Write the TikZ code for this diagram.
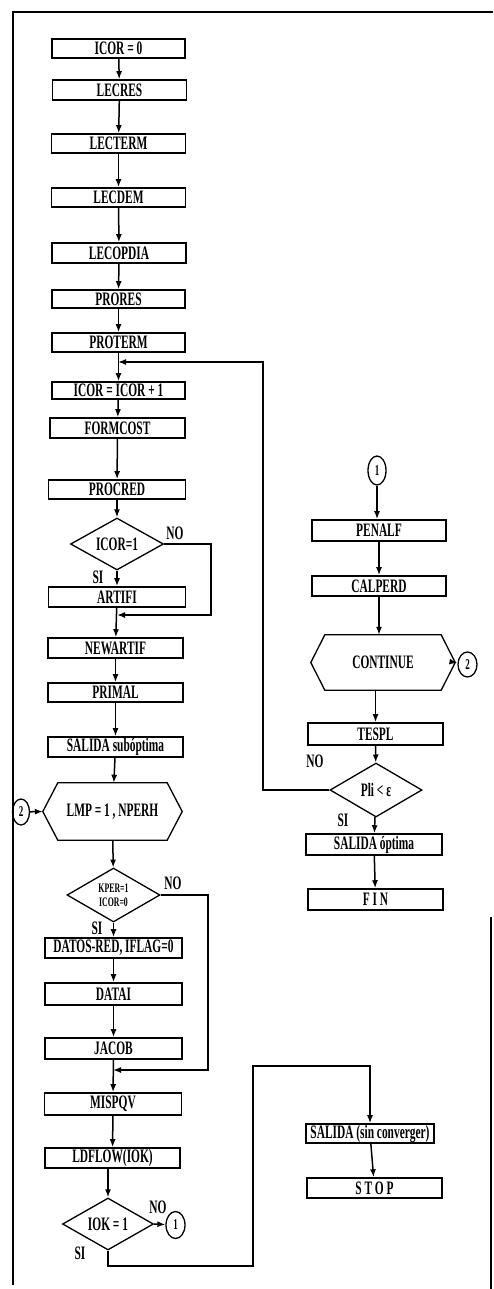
\documentclass[tikz,border=0pt]{standalone}
\usepackage{fontspec}
\newfontfamily\condfont[FakeStretch=0.6]{Liberation Serif}
\usetikzlibrary{arrows.meta,shapes.geometric}
\tikzset{
  tx/.style={font=\condfont\bfseries\fontsize{19}{21}\selectfont},
  box/.style={tx, draw, line width=1.6pt, minimum width=134pt, minimum height=20pt, inner sep=0pt},
  dia/.style={tx, draw, diamond, aspect=1.8, inner sep=0pt, line width=1.3pt, minimum width=93pt, minimum height=52pt},
  hexn/.style={tx, rectangle, inner sep=0pt},
  hexline/.style={line width=1.3pt},
  conn/.style={draw, ellipse, line width=1.3pt, inner sep=0pt, minimum width=17pt, minimum height=26pt, font=\condfont\bfseries\fontsize{15}{17}\selectfont},
  arr/.style={line width=1.5pt, -{Latex[length=8pt,width=6pt]}},
  ln/.style={line width=1.5pt},
  lbl/.style={tx, inner sep=0pt},
  frame/.style={line width=2.4pt}
}
\newcommand{\hexdraw}[2]{\draw[hexline] (#1.west) -- ([xshift=#2]#1.north west) -- ([xshift=-#2]#1.north east) -- (#1.east) -- ([xshift=-#2]#1.south east) -- ([xshift=#2]#1.south west) -- cycle;}
\begin{document}
\begin{tikzpicture}[x=1pt,y=-1pt]
\useasboundingbox (0,0) rectangle (493,1289);
% frame
\coordinate (fa) at (13,1285);
\coordinate (fb) at (13,12);
\coordinate (fc) at (493,12);
\coordinate (fd) at (491,917);
\coordinate (fe) at (491,1289);
\draw[frame] (fa) -- (fb) -- (fc);
\draw[frame] (fd) -- (fe);

% left column
\node[box, minimum width=133pt, minimum height=19pt] (ic0) at (118.5,48.5) {ICOR = 0};
\node[box] (lecres) at (119.5,90) {LECRES};
\node[box, minimum height=19pt] (lecterm) at (118.5,143.5) {LECTERM};
\node[box, minimum height=19pt] (lecdem) at (118.5,197.5) {LECDEM};
\node[box] (lecop) at (119,253) {LECOPDIA};
\node[box, minimum width=133pt, minimum height=18pt] (prores) at (118.5,299) {PRORES};
\node[box, minimum width=133pt, minimum height=19pt] (proterm) at (118.5,342.5) {PROTERM};
\coordinate (j1) at (118,362);
\node[box, minimum width=133pt, minimum height=17pt] (icorp) at (118.5,390.5) {ICOR = ICOR + 1};
\node[box, minimum width=135pt] (formcost) at (117.5,428) {FORMCOST};
\node[box, minimum width=137pt, minimum height=19pt] (procred) at (117,489.5) {PROCRED};
\node[dia] (d1) at (117,544) {ICOR=1};
\node[box, minimum width=137pt] (artifi) at (117,597) {ARTIFI};
\coordinate (j2) at (117,615);
\coordinate (n1) at (211,615);
\node[box, minimum width=135pt] (newartif) at (115.5,648) {NEWARTIF};
\node[box, minimum width=135pt, minimum height=19pt] (primal) at (115.5,692.5) {PRIMAL};
\node[box, minimum width=135pt] (salsub) at (115.5,747) {SALIDA subóptima};
\node[hexn, minimum width=139pt, minimum height=57pt] (lmp) at (112.5,811.5) {LMP = 1 , NPERH};
\hexdraw{lmp}{15pt}
\node[conn] (c2a) at (21,812) {2};
\node[dia, minimum height=54pt, font=\condfont\bfseries\fontsize{13}{14}\selectfont, align=center] (d2) at (113.5,895) {KPER=1\\ICOR=0};
\node[box, minimum width=137pt] (datos) at (113.5,948) {DATOS-RED, IFLAG=0};
\node[box, minimum width=137pt, minimum height=22pt] (datai) at (113.5,994) {DATAI};
\node[box, minimum width=137pt, minimum height=21pt] (jacob) at (113.5,1048.5) {JACOB};
\coordinate (j3) at (113,1070);
\coordinate (n2) at (208,1070);
\node[box, minimum width=137pt, minimum height=22pt] (mispqv) at (113,1104) {MISPQV};
\node[box, minimum width=135pt] (ldflow) at (112.5,1158) {LDFLOW(IOK)};
\node[dia, minimum width=91pt] (d3) at (108,1224) {IOK = 1};
\node[conn, minimum width=19pt, minimum height=27pt] (c1b) at (175.5,1225) {1};
\coordinate (s1) at (253,1266);
\coordinate (s2) at (253,1066);

% right column
\node[conn, minimum width=18pt, minimum height=29pt] (c1a) at (377,470.5) {1};
\node[box, minimum height=21pt] (penalf) at (379,530.5) {PENALF};
\node[box] (calperd) at (379,586) {CALPERD};
\node[hexn, minimum width=144pt, minimum height=55pt] (cont) at (383,662.5) {CONTINUE};
\hexdraw{cont}{14pt}
\node[conn, minimum width=19pt, minimum height=25pt] (c2b) at (467.5,664.5) {2};
\node[box, minimum width=135pt, minimum height=22pt] (tespl) at (375.5,734) {TESPL};
\node[dia, minimum width=92pt, minimum height=54pt] (pli) at (376,790) {Pli < ε};
\coordinate (l1) at (263,362);
\node[box, minimum width=136pt, minimum height=21pt] (salopt) at (374,844.5) {SALIDA óptima};
\node[box, minimum width=135pt, minimum height=21pt] (fin) at (375.5,899.5) {F I N};
\node[box, minimum width=128pt, minimum height=19pt] (salsin) at (370,1133.5) {SALIDA (sin converger)};
\node[box, minimum width=135pt] (stop) at (374.5,1188) {S T O P};

% labels
\node[lbl] at (175,533) {NO};
\node[lbl] at (98,577) {SI};
\node[lbl] at (173,883) {NO};
\node[lbl] at (97,928) {SI};
\node[lbl] at (158,1207) {NO};
\node[lbl] at (80,1253) {SI};
\node[lbl] at (315,761) {NO};
\node[lbl] at (343,820) {SI};

% connectors left
\draw[arr] (ic0) -- (lecres);
\draw[arr] (lecres) -- (lecterm);
\draw[arr] (lecterm) -- (lecdem);
\draw[arr] (lecdem) -- (lecop);
\draw[arr] (lecop) -- (prores);
\draw[arr] (prores) -- (proterm);
\draw[arr] (proterm) -- (icorp);
\draw[arr] (pli.west) -| (l1) -- (j1);
\draw[arr] (icorp) -- (formcost);
\draw[arr] (formcost) -- (procred);
\draw[arr] (procred) -- (d1);
\draw[arr] (d1) -- (artifi);
\draw[arr] (d1.east) -| (n1) -- (j2);
\draw[arr] (artifi) -- (newartif);
\draw[arr] (newartif) -- (primal);
\draw[arr] (primal) -- (salsub);
\draw[arr] (salsub) -- (lmp);
\draw[arr] (c2a) -- (lmp.west);
\draw[arr] (lmp) -- (d2);
\draw[arr] (d2) -- (datos);
\draw[arr] (datos) -- (datai);
\draw[arr] (datai) -- (jacob);
\draw[arr] (d2.east) -| (n2) -- (j3);
\draw[arr] (jacob) -- (mispqv);
\draw[arr] (mispqv) -- (ldflow);
\draw[arr] (d3.north |- ldflow.south) -- (d3.north);
\draw[arr] (d3.east) -- (c1b);
\draw[arr] (d3.south) |- (s1) -- (s2) -| (salsin.north);
\draw[arr] (salsin) -- (stop);

% connectors right
\draw[arr] (c1a) -- (c1a |- penalf.north);
\draw[arr] (penalf) -- (calperd);
\draw[arr] (calperd.south) -- (calperd.south |- cont.north);
\draw[arr] (cont.east) -- (c2b);
\draw[arr] (cont.south -| tespl.north) -- (tespl.north);
\draw[arr] (tespl) -- (pli);
\draw[arr] (pli) -- (salopt);
\draw[arr] (salopt) -- (fin);
\end{tikzpicture}
\end{document}
